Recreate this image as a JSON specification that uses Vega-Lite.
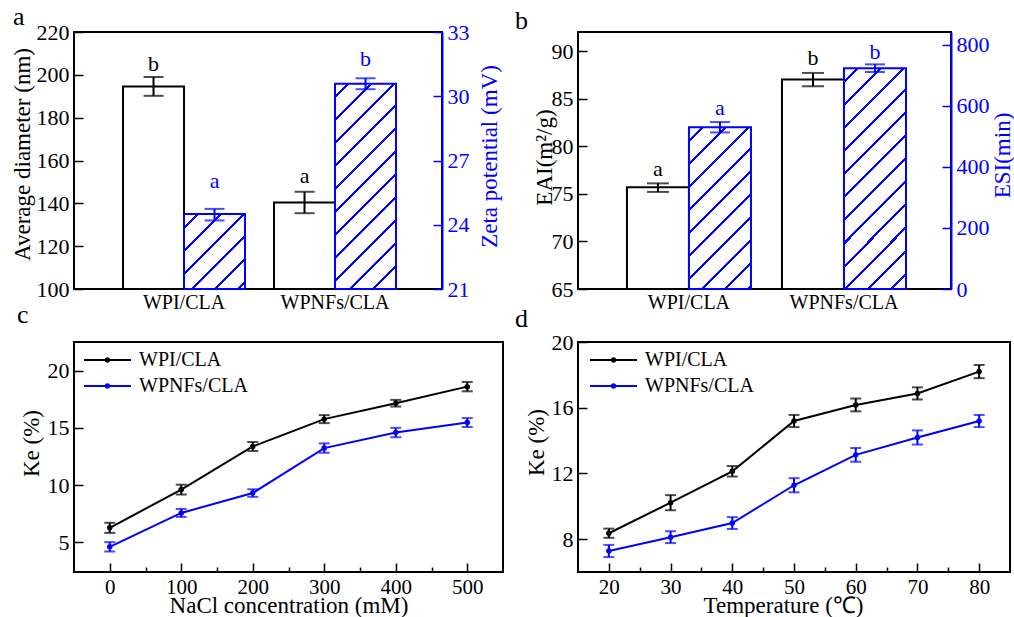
{
"$schema": "https://vega.github.io/schema/vega-lite/v6.json",
"autosize": {"type": "none"},
"padding": {"left": 74, "top": 32, "right": 940, "bottom": 585},
"config": {
  "font": "Liberation Serif",
  "view": {"stroke": "black", "strokeWidth": 2},
  "axis": {"grid": false, "domain": false, "tickColor": "black", "tickWidth": 1.5, "labelFont": "Liberation Serif", "titleFont": "Liberation Serif", "labelFontSize": 22, "titleFontSize": 23, "titleFontWeight": "normal", "labelColor": "black", "titleColor": "black", "labelFlush": false, "labelOverlap": false},
  "title": {"font": "Liberation Serif", "fontSize": 26, "fontWeight": "normal", "anchor": "start", "frame": "group", "baseline": "alphabetic", "color": "black"},
  "legend": {"labelFont": "Liberation Serif", "labelFontSize": 20, "labelColor": "black"}
},
"datasets": {
  "pa": [
    {"sample": "WPI/CLA", "m": "L", "v": 194.6, "lo": 190.2, "hi": 199.0, "lt": "b", "ly": 201.6},
    {"sample": "WPNFs/CLA", "m": "L", "v": 140.4, "lo": 135.4, "hi": 145.4, "lt": "a", "ly": 149.6},
    {"sample": "WPI/CLA", "m": "R", "v": 24.5, "lo": 24.2, "hi": 24.74, "lt": "a", "ly": 25.73},
    {"sample": "WPNFs/CLA", "m": "R", "v": 30.58, "lo": 30.33, "hi": 30.84, "lt": "b", "ly": 31.39}
  ],
  "pb": [
    {"sample": "WPI/CLA", "m": "L", "v": 75.7, "lo": 75.2, "hi": 76.1, "lt": "a", "ly": 76.9},
    {"sample": "WPNFs/CLA", "m": "L", "v": 87.0, "lo": 86.3, "hi": 87.7, "lt": "b", "ly": 88.5},
    {"sample": "WPI/CLA", "m": "R", "v": 530, "lo": 513, "hi": 547, "lt": "a", "ly": 569},
    {"sample": "WPNFs/CLA", "m": "R", "v": 723, "lo": 711, "hi": 736, "lt": "b", "ly": 753}
  ],
  "pc": [
    {"x": 0, "s": "WPI/CLA", "y": 6.26, "lo": 5.82, "hi": 6.70},
    {"x": 100, "s": "WPI/CLA", "y": 9.60, "lo": 9.17, "hi": 10.03},
    {"x": 200, "s": "WPI/CLA", "y": 13.37, "lo": 12.98, "hi": 13.76},
    {"x": 300, "s": "WPI/CLA", "y": 15.76, "lo": 15.41, "hi": 16.11},
    {"x": 400, "s": "WPI/CLA", "y": 17.15, "lo": 16.86, "hi": 17.44},
    {"x": 500, "s": "WPI/CLA", "y": 18.60, "lo": 18.19, "hi": 19.01},
    {"x": 0, "s": "WPNFs/CLA", "y": 4.60, "lo": 4.19, "hi": 5.01},
    {"x": 100, "s": "WPNFs/CLA", "y": 7.56, "lo": 7.21, "hi": 7.91},
    {"x": 200, "s": "WPNFs/CLA", "y": 9.30, "lo": 8.97, "hi": 9.63},
    {"x": 300, "s": "WPNFs/CLA", "y": 13.23, "lo": 12.82, "hi": 13.64},
    {"x": 400, "s": "WPNFs/CLA", "y": 14.59, "lo": 14.18, "hi": 15.00},
    {"x": 500, "s": "WPNFs/CLA", "y": 15.46, "lo": 15.07, "hi": 15.85}
  ],
  "pd": [
    {"x": 20, "s": "WPI/CLA", "y": 8.36, "lo": 8.08, "hi": 8.64},
    {"x": 30, "s": "WPI/CLA", "y": 10.22, "lo": 9.76, "hi": 10.68},
    {"x": 40, "s": "WPI/CLA", "y": 12.13, "lo": 11.81, "hi": 12.45},
    {"x": 50, "s": "WPI/CLA", "y": 15.19, "lo": 14.82, "hi": 15.56},
    {"x": 60, "s": "WPI/CLA", "y": 16.17, "lo": 15.78, "hi": 16.56},
    {"x": 70, "s": "WPI/CLA", "y": 16.87, "lo": 16.50, "hi": 17.24},
    {"x": 80, "s": "WPI/CLA", "y": 18.20, "lo": 17.80, "hi": 18.60},
    {"x": 20, "s": "WPNFs/CLA", "y": 7.28, "lo": 6.91, "hi": 7.65},
    {"x": 30, "s": "WPNFs/CLA", "y": 8.12, "lo": 7.76, "hi": 8.48},
    {"x": 40, "s": "WPNFs/CLA", "y": 8.98, "lo": 8.62, "hi": 9.34},
    {"x": 50, "s": "WPNFs/CLA", "y": 11.28, "lo": 10.85, "hi": 11.71},
    {"x": 60, "s": "WPNFs/CLA", "y": 13.13, "lo": 12.71, "hi": 13.55},
    {"x": 70, "s": "WPNFs/CLA", "y": 14.19, "lo": 13.76, "hi": 14.62},
    {"x": 80, "s": "WPNFs/CLA", "y": 15.19, "lo": 14.82, "hi": 15.56}
  ]
},
"columns": 2,
"bounds": "flush",
"align": "all",
"spacing": {"row": 53, "column": 72},
"resolve": {"scale": {"color": "independent", "xOffset": "independent"}, "legend": {"color": "independent"}},
"concat": [
  {
    "width": 368, "height": 257,
    "title": {"text": "a", "dx": -61, "offset": -9},
    "data": {"name": "pa"},
    "encoding": {
      "x": {"field": "sample", "type": "nominal", "sort": ["WPI/CLA", "WPNFs/CLA"], "scale": {"domain": ["WPI/CLA", "WPNFs/CLA"], "paddingInner": 0.192, "paddingOuter": 0.3146, "align": 0.516}, "axis": {"ticks": false, "labelAngle": 0, "labelFontSize": 20, "labelPadding": 3, "title": null}},
      "xOffset": {"field": "m", "type": "nominal", "scale": {"domain": ["L", "R"], "paddingInner": 0, "paddingOuter": 0}}
    },
    "layer": [
      {
        "transform": [{"filter": "datum.m == 'L'"}],
        "layer": [
          {"mark": {"type": "bar", "fill": "white", "stroke": "black", "strokeWidth": 2},
           "encoding": {"y": {"field": "v", "type": "quantitative", "scale": {"domain": [100, 220], "nice": false, "zero": false},
             "axis": {"orient": "left", "values": [100, 110, 120, 130, 140, 150, 160, 170, 180, 190, 200, 210, 220], "labelExpr": "datum.value % 20 == 0 ? datum.label : ''", "tickSize": {"expr": "datum.value % 20 == 0 ? -9 : -5"}, "labelPadding": 14, "title": "Average diameter (nm)", "titleX": -45, "titleY": 122, "titleBaseline": "alphabetic", "titleAngle": 270, "zindex": 1}},
             "y2": {"datum": 100}}},
          {"mark": {"type": "rule", "color": "black", "strokeWidth": 2},
           "encoding": {"y": {"field": "lo", "type": "quantitative", "scale": {"domain": [100, 220], "nice": false, "zero": false}}, "y2": {"field": "hi"}}},
          {"mark": {"type": "tick", "orient": "horizontal", "color": "black", "size": 20, "thickness": 2},
           "encoding": {"y": {"field": "lo", "type": "quantitative", "scale": {"domain": [100, 220], "nice": false, "zero": false}}}},
          {"mark": {"type": "tick", "orient": "horizontal", "color": "black", "size": 20, "thickness": 2},
           "encoding": {"y": {"field": "hi", "type": "quantitative", "scale": {"domain": [100, 220], "nice": false, "zero": false}}}},
          {"mark": {"type": "text", "color": "black", "fontSize": 22, "baseline": "alphabetic"},
           "encoding": {"y": {"field": "ly", "type": "quantitative", "scale": {"domain": [100, 220], "nice": false, "zero": false}}, "text": {"field": "lt"}}}
        ]
      },
      {
        "transform": [{"filter": "datum.m == 'R'"}],
        "layer": [
          {"transform": [{"filter": "datum.sample == 'WPI/CLA'"}],
           "mark": {"type": "bar", "stroke": "#0000ff", "strokeWidth": 2,
             "fill": {"gradient": "linear", "x1": 0, "y1": 0, "x2": 0.8876, "y2": 1.0914, "stops": [
               {"offset": 0, "color": "white"},
               {"offset": 0.0882, "color": "white"}, {"offset": 0.0882, "color": "#0000ff"}, {"offset": 0.1103, "color": "#0000ff"}, {"offset": 0.1103, "color": "white"},
               {"offset": 0.2574, "color": "white"}, {"offset": 0.2574, "color": "#0000ff"}, {"offset": 0.2794, "color": "#0000ff"}, {"offset": 0.2794, "color": "white"},
               {"offset": 0.4265, "color": "white"}, {"offset": 0.4265, "color": "#0000ff"}, {"offset": 0.4485, "color": "#0000ff"}, {"offset": 0.4485, "color": "white"},
               {"offset": 0.5956, "color": "white"}, {"offset": 0.5956, "color": "#0000ff"}, {"offset": 0.6176, "color": "#0000ff"}, {"offset": 0.6176, "color": "white"},
               {"offset": 0.7647, "color": "white"}, {"offset": 0.7647, "color": "#0000ff"}, {"offset": 0.7868, "color": "#0000ff"}, {"offset": 0.7868, "color": "white"},
               {"offset": 0.9338, "color": "white"}, {"offset": 0.9338, "color": "#0000ff"}, {"offset": 0.9559, "color": "#0000ff"}, {"offset": 0.9559, "color": "white"},
               {"offset": 1, "color": "white"}]}},
           "encoding": {"y": {"field": "v", "type": "quantitative", "scale": {"domain": [21, 33], "nice": false, "zero": false},
             "axis": {"orient": "right", "values": [21, 22.5, 24, 25.5, 27, 28.5, 30, 31.5, 33], "labelExpr": "datum.value % 3 == 0 ? datum.label : ''", "tickSize": {"expr": "datum.value % 3 == 0 ? -9 : -5"}, "labelPadding": 14, "domain": true, "domainColor": "#0000ff", "domainWidth": 2, "tickColor": "#0000ff", "labelColor": "#0000ff", "titleColor": "#0000ff", "title": "Zeta potential (mV)", "titleAngle": 270, "titleX": 54, "titleY": 124, "titleBaseline": "alphabetic", "zindex": 1}},
             "y2": {"datum": 21}}},
          {"transform": [{"filter": "datum.sample == 'WPNFs/CLA'"}],
           "mark": {"type": "bar", "stroke": "#0000ff", "strokeWidth": 2,
             "fill": {"gradient": "linear", "x1": 0, "y1": 0, "x2": 0.3543, "y2": 1.1919, "stops": [
               {"offset": 0, "color": "white"},
               {"offset": 0.0451, "color": "white"}, {"offset": 0.0451, "color": "#0000ff"}, {"offset": 0.0563, "color": "#0000ff"}, {"offset": 0.0563, "color": "white"},
               {"offset": 0.1315, "color": "white"}, {"offset": 0.1315, "color": "#0000ff"}, {"offset": 0.1427, "color": "#0000ff"}, {"offset": 0.1427, "color": "white"},
               {"offset": 0.2179, "color": "white"}, {"offset": 0.2179, "color": "#0000ff"}, {"offset": 0.2292, "color": "#0000ff"}, {"offset": 0.2292, "color": "white"},
               {"offset": 0.3043, "color": "white"}, {"offset": 0.3043, "color": "#0000ff"}, {"offset": 0.3156, "color": "#0000ff"}, {"offset": 0.3156, "color": "white"},
               {"offset": 0.3907, "color": "white"}, {"offset": 0.3907, "color": "#0000ff"}, {"offset": 0.4020, "color": "#0000ff"}, {"offset": 0.4020, "color": "white"},
               {"offset": 0.4771, "color": "white"}, {"offset": 0.4771, "color": "#0000ff"}, {"offset": 0.4884, "color": "#0000ff"}, {"offset": 0.4884, "color": "white"},
               {"offset": 0.5635, "color": "white"}, {"offset": 0.5635, "color": "#0000ff"}, {"offset": 0.5748, "color": "#0000ff"}, {"offset": 0.5748, "color": "white"},
               {"offset": 0.6499, "color": "white"}, {"offset": 0.6499, "color": "#0000ff"}, {"offset": 0.6612, "color": "#0000ff"}, {"offset": 0.6612, "color": "white"},
               {"offset": 0.7363, "color": "white"}, {"offset": 0.7363, "color": "#0000ff"}, {"offset": 0.7476, "color": "#0000ff"}, {"offset": 0.7476, "color": "white"},
               {"offset": 0.8227, "color": "white"}, {"offset": 0.8227, "color": "#0000ff"}, {"offset": 0.8340, "color": "#0000ff"}, {"offset": 0.8340, "color": "white"},
               {"offset": 0.9091, "color": "white"}, {"offset": 0.9091, "color": "#0000ff"}, {"offset": 0.9204, "color": "#0000ff"}, {"offset": 0.9204, "color": "white"},
               {"offset": 1, "color": "white"}]}},
           "encoding": {"y": {"field": "v", "type": "quantitative", "scale": {"domain": [21, 33], "nice": false, "zero": false}}, "y2": {"datum": 21}}},
          {"mark": {"type": "rule", "color": "#0000ff", "strokeWidth": 2},
           "encoding": {"y": {"field": "lo", "type": "quantitative", "scale": {"domain": [21, 33], "nice": false, "zero": false}}, "y2": {"field": "hi"}}},
          {"mark": {"type": "tick", "orient": "horizontal", "color": "#0000ff", "size": 20, "thickness": 2},
           "encoding": {"y": {"field": "lo", "type": "quantitative", "scale": {"domain": [21, 33], "nice": false, "zero": false}}}},
          {"mark": {"type": "tick", "orient": "horizontal", "color": "#0000ff", "size": 20, "thickness": 2},
           "encoding": {"y": {"field": "hi", "type": "quantitative", "scale": {"domain": [21, 33], "nice": false, "zero": false}}}},
          {"mark": {"type": "text", "color": "#0000ff", "fontSize": 22, "baseline": "alphabetic"},
           "encoding": {"y": {"field": "ly", "type": "quantitative", "scale": {"domain": [21, 33], "nice": false, "zero": false}}, "text": {"field": "lt"}}}
        ]
      }
    ],
    "resolve": {"scale": {"y": "independent"}, "axis": {"y": "independent"}}
  },
  {
    "width": 373, "height": 257,
    "title": {"text": "b", "dx": -63, "offset": -2},
    "data": {"name": "pb"},
    "encoding": {
      "x": {"field": "sample", "type": "nominal", "sort": ["WPI/CLA", "WPNFs/CLA"], "scale": {"domain": ["WPI/CLA", "WPNFs/CLA"], "paddingInner": 0.2, "paddingOuter": 0.303, "align": 0.521}, "axis": {"ticks": false, "labelAngle": 0, "labelFontSize": 20, "labelPadding": 3, "title": null}},
      "xOffset": {"field": "m", "type": "nominal", "scale": {"domain": ["L", "R"], "paddingInner": 0, "paddingOuter": 0}}
    },
    "layer": [
      {
        "transform": [{"filter": "datum.m == 'L'"}],
        "layer": [
          {"mark": {"type": "bar", "fill": "white", "stroke": "black", "strokeWidth": 2},
           "encoding": {"y": {"field": "v", "type": "quantitative", "scale": {"domain": [65, 92], "nice": false, "zero": false},
             "axis": {"orient": "left", "values": [65, 67.5, 70, 72.5, 75, 77.5, 80, 82.5, 85, 87.5, 90], "labelExpr": "datum.value % 5 == 0 ? datum.label : ''", "tickSize": {"expr": "datum.value % 5 == 0 ? -9 : -5"}, "labelPadding": 14, "title": "EAI(m²/g)", "titleX": -27, "titleY": 125, "titleBaseline": "alphabetic", "titleAngle": 270, "zindex": 1}},
             "y2": {"datum": 65}}},
          {"mark": {"type": "rule", "color": "black", "strokeWidth": 2},
           "encoding": {"y": {"field": "lo", "type": "quantitative", "scale": {"domain": [65, 92], "nice": false, "zero": false}}, "y2": {"field": "hi"}}},
          {"mark": {"type": "tick", "orient": "horizontal", "color": "black", "size": 22, "thickness": 2},
           "encoding": {"y": {"field": "lo", "type": "quantitative", "scale": {"domain": [65, 92], "nice": false, "zero": false}}}},
          {"mark": {"type": "tick", "orient": "horizontal", "color": "black", "size": 22, "thickness": 2},
           "encoding": {"y": {"field": "hi", "type": "quantitative", "scale": {"domain": [65, 92], "nice": false, "zero": false}}}},
          {"mark": {"type": "text", "color": "black", "fontSize": 22, "baseline": "alphabetic"},
           "encoding": {"y": {"field": "ly", "type": "quantitative", "scale": {"domain": [65, 92], "nice": false, "zero": false}}, "text": {"field": "lt"}}}
        ]
      },
      {
        "transform": [{"filter": "datum.m == 'R'"}],
        "layer": [
          {"transform": [{"filter": "datum.sample == 'WPI/CLA'"}],
           "mark": {"type": "bar", "stroke": "#0000ff", "strokeWidth": 2,
             "fill": {"gradient": "linear", "x1": 0, "y1": 0, "x2": 0.4642, "y2": 1.2062, "stops": [
               {"offset": 0, "color": "white"},
               {"offset": 0.0538, "color": "white"}, {"offset": 0.0538, "color": "#0000ff"}, {"offset": 0.0672, "color": "#0000ff"}, {"offset": 0.0672, "color": "white"},
               {"offset": 0.1569, "color": "white"}, {"offset": 0.1569, "color": "#0000ff"}, {"offset": 0.1703, "color": "#0000ff"}, {"offset": 0.1703, "color": "white"},
               {"offset": 0.2600, "color": "white"}, {"offset": 0.2600, "color": "#0000ff"}, {"offset": 0.2734, "color": "#0000ff"}, {"offset": 0.2734, "color": "white"},
               {"offset": 0.3631, "color": "white"}, {"offset": 0.3631, "color": "#0000ff"}, {"offset": 0.3765, "color": "#0000ff"}, {"offset": 0.3765, "color": "white"},
               {"offset": 0.4662, "color": "white"}, {"offset": 0.4662, "color": "#0000ff"}, {"offset": 0.4796, "color": "#0000ff"}, {"offset": 0.4796, "color": "white"},
               {"offset": 0.5692, "color": "white"}, {"offset": 0.5692, "color": "#0000ff"}, {"offset": 0.5827, "color": "#0000ff"}, {"offset": 0.5827, "color": "white"},
               {"offset": 0.6723, "color": "white"}, {"offset": 0.6723, "color": "#0000ff"}, {"offset": 0.6858, "color": "#0000ff"}, {"offset": 0.6858, "color": "white"},
               {"offset": 0.7754, "color": "white"}, {"offset": 0.7754, "color": "#0000ff"}, {"offset": 0.7889, "color": "#0000ff"}, {"offset": 0.7889, "color": "white"},
               {"offset": 0.8785, "color": "white"}, {"offset": 0.8785, "color": "#0000ff"}, {"offset": 0.8920, "color": "#0000ff"}, {"offset": 0.8920, "color": "white"},
               {"offset": 0.9816, "color": "white"}, {"offset": 0.9816, "color": "#0000ff"}, {"offset": 0.9951, "color": "#0000ff"}, {"offset": 0.9951, "color": "white"},
               {"offset": 1, "color": "white"}]}},
           "encoding": {"y": {"field": "v", "type": "quantitative", "scale": {"domain": [0, 842], "nice": false, "zero": false},
             "axis": {"orient": "right", "values": [0, 100, 200, 300, 400, 500, 600, 700, 800], "labelExpr": "datum.value % 200 == 0 ? datum.label : ''", "tickSize": {"expr": "datum.value % 200 == 0 ? -9 : -5"}, "labelPadding": 14, "domain": true, "domainColor": "#0000ff", "domainWidth": 2, "tickColor": "#0000ff", "labelColor": "#0000ff", "titleColor": "#0000ff", "title": "ESI(min)", "titleAngle": 270, "titleX": 58, "titleY": 123, "titleBaseline": "alphabetic", "zindex": 1}},
             "y2": {"datum": 0}}},
          {"transform": [{"filter": "datum.sample == 'WPNFs/CLA'"}],
           "mark": {"type": "bar", "stroke": "#0000ff", "strokeWidth": 2,
             "fill": {"gradient": "linear", "x1": 0, "y1": 0, "x2": 0.335, "y2": 1.1876, "stops": [
               {"offset": 0, "color": "white"},
               {"offset": 0.0426, "color": "white"}, {"offset": 0.0426, "color": "#0000ff"}, {"offset": 0.0532, "color": "#0000ff"}, {"offset": 0.0532, "color": "white"},
               {"offset": 0.1242, "color": "white"}, {"offset": 0.1242, "color": "#0000ff"}, {"offset": 0.1348, "color": "#0000ff"}, {"offset": 0.1348, "color": "white"},
               {"offset": 0.2058, "color": "white"}, {"offset": 0.2058, "color": "#0000ff"}, {"offset": 0.2165, "color": "#0000ff"}, {"offset": 0.2165, "color": "white"},
               {"offset": 0.2874, "color": "white"}, {"offset": 0.2874, "color": "#0000ff"}, {"offset": 0.2981, "color": "#0000ff"}, {"offset": 0.2981, "color": "white"},
               {"offset": 0.3691, "color": "white"}, {"offset": 0.3691, "color": "#0000ff"}, {"offset": 0.3797, "color": "#0000ff"}, {"offset": 0.3797, "color": "white"},
               {"offset": 0.4507, "color": "white"}, {"offset": 0.4507, "color": "#0000ff"}, {"offset": 0.4613, "color": "#0000ff"}, {"offset": 0.4613, "color": "white"},
               {"offset": 0.5323, "color": "white"}, {"offset": 0.5323, "color": "#0000ff"}, {"offset": 0.5429, "color": "#0000ff"}, {"offset": 0.5429, "color": "white"},
               {"offset": 0.6139, "color": "white"}, {"offset": 0.6139, "color": "#0000ff"}, {"offset": 0.6246, "color": "#0000ff"}, {"offset": 0.6246, "color": "white"},
               {"offset": 0.6955, "color": "white"}, {"offset": 0.6955, "color": "#0000ff"}, {"offset": 0.7062, "color": "#0000ff"}, {"offset": 0.7062, "color": "white"},
               {"offset": 0.7771, "color": "white"}, {"offset": 0.7771, "color": "#0000ff"}, {"offset": 0.7878, "color": "#0000ff"}, {"offset": 0.7878, "color": "white"},
               {"offset": 0.8588, "color": "white"}, {"offset": 0.8588, "color": "#0000ff"}, {"offset": 0.8694, "color": "#0000ff"}, {"offset": 0.8694, "color": "white"},
               {"offset": 0.9404, "color": "white"}, {"offset": 0.9404, "color": "#0000ff"}, {"offset": 0.9510, "color": "#0000ff"}, {"offset": 0.9510, "color": "white"},
               {"offset": 1, "color": "white"}]}},
           "encoding": {"y": {"field": "v", "type": "quantitative", "scale": {"domain": [0, 842], "nice": false, "zero": false}}, "y2": {"datum": 0}}},
          {"mark": {"type": "rule", "color": "#0000ff", "strokeWidth": 2},
           "encoding": {"y": {"field": "lo", "type": "quantitative", "scale": {"domain": [0, 842], "nice": false, "zero": false}}, "y2": {"field": "hi"}}},
          {"mark": {"type": "tick", "orient": "horizontal", "color": "#0000ff", "size": 20, "thickness": 2},
           "encoding": {"y": {"field": "lo", "type": "quantitative", "scale": {"domain": [0, 842], "nice": false, "zero": false}}}},
          {"mark": {"type": "tick", "orient": "horizontal", "color": "#0000ff", "size": 20, "thickness": 2},
           "encoding": {"y": {"field": "hi", "type": "quantitative", "scale": {"domain": [0, 842], "nice": false, "zero": false}}}},
          {"mark": {"type": "text", "color": "#0000ff", "fontSize": 22, "baseline": "alphabetic"},
           "encoding": {"y": {"field": "ly", "type": "quantitative", "scale": {"domain": [0, 842], "nice": false, "zero": false}}, "text": {"field": "lt"}}}
        ]
      }
    ],
    "resolve": {"scale": {"y": "independent"}, "axis": {"y": "independent"}}
  },
  {
    "width": 429, "height": 230,
    "title": {"text": "c", "dx": -57, "offset": 14},
    "data": {"name": "pc"},
    "encoding": {
      "x": {"field": "x", "type": "quantitative", "scale": {"domain": [-50, 550], "nice": false, "zero": false},
        "axis": {"values": [0, 50, 100, 150, 200, 250, 300, 350, 400, 450, 500], "labelExpr": "datum.value % 100 == 0 ? datum.label : ''", "tickSize": {"expr": "datum.value % 100 == 0 ? -9 : -5"}, "labelPadding": 13, "labelFontSize": 21, "title": "NaCl concentration (mM)", "titleY": 40, "titleBaseline": "alphabetic", "zindex": 1}}
    },
    "layer": [
      {"mark": {"type": "line", "strokeWidth": 2},
       "encoding": {
         "y": {"field": "y", "type": "quantitative", "scale": {"domain": [2.4, 22.5], "nice": false, "zero": false},
           "axis": {"values": [5, 7.5, 10, 12.5, 15, 17.5, 20], "labelExpr": "datum.value % 5 == 0 ? datum.label : ''", "tickSize": {"expr": "datum.value % 5 == 0 ? -9 : -5"}, "labelPadding": 14, "title": "Ke (%)", "titleX": -36, "titleY": 101, "titleBaseline": "alphabetic", "titleAngle": 270, "zindex": 1}},
         "color": {"field": "s", "type": "nominal", "scale": {"domain": ["WPI/CLA", "WPNFs/CLA"], "range": ["black", "#0000ff"]},
           "legend": {"orient": "none", "legendX": 9, "legendY": 8, "title": null, "padding": 0, "symbolType": "M-1,0H1M-0.07,0A0.07,0.07,0,1,0,0.07,0A0.07,0.07,0,1,0,-0.07,0", "symbolSize": 2209, "symbolStrokeWidth": 2, "labelOffset": 7, "clipHeight": 20, "rowPadding": 6}}
       }},
      {"mark": {"type": "rule", "strokeWidth": 2},
       "encoding": {"y": {"field": "lo", "type": "quantitative", "scale": {"domain": [2.4, 22.5], "nice": false, "zero": false}}, "y2": {"field": "hi"},
         "color": {"field": "s", "type": "nominal", "scale": {"domain": ["WPI/CLA", "WPNFs/CLA"], "range": ["black", "#0000ff"]}, "legend": null}}},
      {"mark": {"type": "tick", "orient": "horizontal", "size": 11, "thickness": 2},
       "encoding": {"y": {"field": "lo", "type": "quantitative", "scale": {"domain": [2.4, 22.5], "nice": false, "zero": false}},
         "color": {"field": "s", "type": "nominal", "scale": {"domain": ["WPI/CLA", "WPNFs/CLA"], "range": ["black", "#0000ff"]}, "legend": null}}},
      {"mark": {"type": "tick", "orient": "horizontal", "size": 11, "thickness": 2},
       "encoding": {"y": {"field": "hi", "type": "quantitative", "scale": {"domain": [2.4, 22.5], "nice": false, "zero": false}},
         "color": {"field": "s", "type": "nominal", "scale": {"domain": ["WPI/CLA", "WPNFs/CLA"], "range": ["black", "#0000ff"]}, "legend": null}}},
      {"mark": {"type": "point", "filled": true, "size": 30, "opacity": 1},
       "encoding": {"y": {"field": "y", "type": "quantitative", "scale": {"domain": [2.4, 22.5], "nice": false, "zero": false}},
         "color": {"field": "s", "type": "nominal", "scale": {"domain": ["WPI/CLA", "WPNFs/CLA"], "range": ["black", "#0000ff"]}, "legend": null}}}
    ]
  },
  {
    "width": 432, "height": 230,
    "title": {"text": "d", "dx": -63, "offset": -1},
    "data": {"name": "pd"},
    "encoding": {
      "x": {"field": "x", "type": "quantitative", "scale": {"domain": [15, 85], "nice": false, "zero": false},
        "axis": {"values": [20, 25, 30, 35, 40, 45, 50, 55, 60, 65, 70, 75, 80], "labelExpr": "datum.value % 10 == 0 ? datum.label : ''", "tickSize": {"expr": "datum.value % 10 == 0 ? -9 : -5"}, "labelPadding": 13, "labelFontSize": 21, "title": "Temperature (℃)", "titleX": 205, "titleY": 40, "titleBaseline": "alphabetic", "zindex": 1}}
    },
    "layer": [
      {"mark": {"type": "line", "strokeWidth": 2},
       "encoding": {
         "y": {"field": "y", "type": "quantitative", "scale": {"domain": [6, 20], "nice": false, "zero": false},
           "axis": {"values": [8, 10, 12, 14, 16, 18, 20], "labelExpr": "datum.value % 4 == 0 ? datum.label : ''", "tickSize": {"expr": "datum.value % 4 == 0 ? -9 : -5"}, "labelPadding": 14, "title": "Ke (%)", "titleX": -35, "titleY": 100, "titleBaseline": "alphabetic", "titleAngle": 270, "zindex": 1}},
         "color": {"field": "s", "type": "nominal", "scale": {"domain": ["WPI/CLA", "WPNFs/CLA"], "range": ["black", "#0000ff"]},
           "legend": {"orient": "none", "legendX": 11, "legendY": 8, "title": null, "padding": 0, "symbolType": "M-1,0H1M-0.07,0A0.07,0.07,0,1,0,0.07,0A0.07,0.07,0,1,0,-0.07,0", "symbolSize": 2209, "symbolStrokeWidth": 2, "labelOffset": 7, "clipHeight": 20, "rowPadding": 6}}
       }},
      {"mark": {"type": "rule", "strokeWidth": 2},
       "encoding": {"y": {"field": "lo", "type": "quantitative", "scale": {"domain": [6, 20], "nice": false, "zero": false}}, "y2": {"field": "hi"},
         "color": {"field": "s", "type": "nominal", "scale": {"domain": ["WPI/CLA", "WPNFs/CLA"], "range": ["black", "#0000ff"]}, "legend": null}}},
      {"mark": {"type": "tick", "orient": "horizontal", "size": 11, "thickness": 2},
       "encoding": {"y": {"field": "lo", "type": "quantitative", "scale": {"domain": [6, 20], "nice": false, "zero": false}},
         "color": {"field": "s", "type": "nominal", "scale": {"domain": ["WPI/CLA", "WPNFs/CLA"], "range": ["black", "#0000ff"]}, "legend": null}}},
      {"mark": {"type": "tick", "orient": "horizontal", "size": 11, "thickness": 2},
       "encoding": {"y": {"field": "hi", "type": "quantitative", "scale": {"domain": [6, 20], "nice": false, "zero": false}},
         "color": {"field": "s", "type": "nominal", "scale": {"domain": ["WPI/CLA", "WPNFs/CLA"], "range": ["black", "#0000ff"]}, "legend": null}}},
      {"mark": {"type": "point", "filled": true, "size": 30, "opacity": 1},
       "encoding": {"y": {"field": "y", "type": "quantitative", "scale": {"domain": [6, 20], "nice": false, "zero": false}},
         "color": {"field": "s", "type": "nominal", "scale": {"domain": ["WPI/CLA", "WPNFs/CLA"], "range": ["black", "#0000ff"]}, "legend": null}}}
    ]
  }
]
}
